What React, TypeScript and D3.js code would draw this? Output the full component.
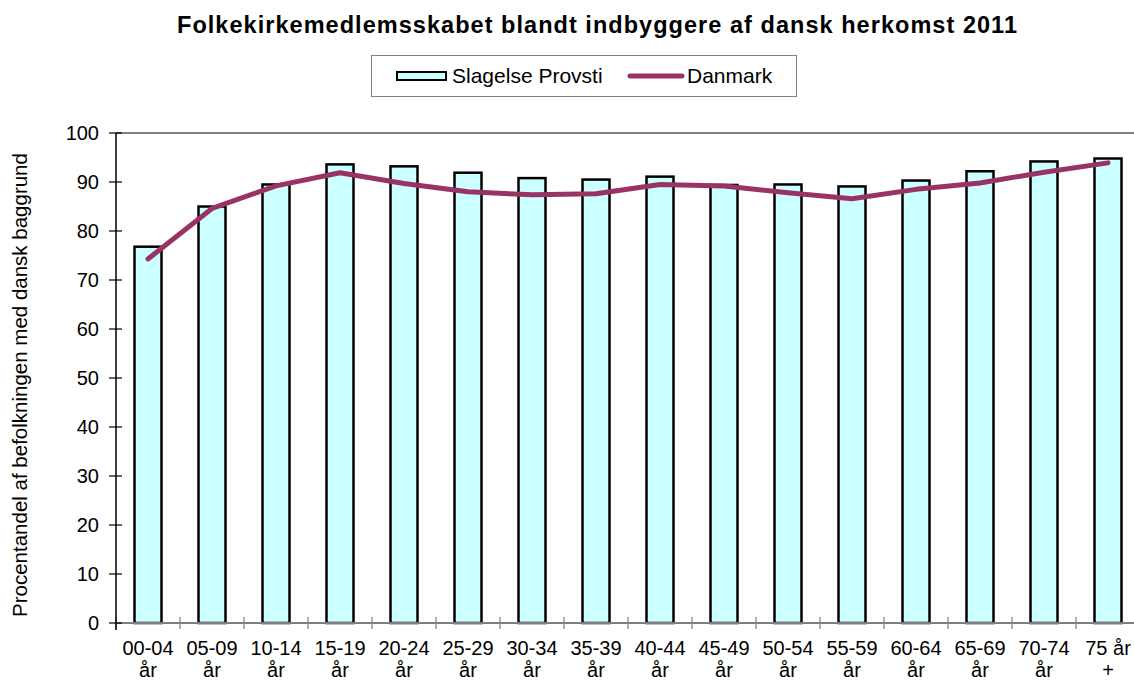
import React from "react";
import * as d3 from "d3";

const categories = ["00-04|år", "05-09|år", "10-14|år", "15-19|år", "20-24|år", "25-29|år", "30-34|år", "35-39|år", "40-44|år", "45-49|år", "50-54|år", "55-59|år", "60-64|år", "65-69|år", "70-74|år", "75 år|+"];
const slagelse = [77.0, 85.2, 89.7, 93.8, 93.4, 92.1, 91.0, 90.7, 91.3, 89.6, 89.7, 89.3, 90.5, 92.4, 94.4, 95.0];
const danmark = [74.3, 84.6, 89.2, 91.9, 89.7, 88.0, 87.4, 87.6, 89.5, 89.2, 87.8, 86.6, 88.5, 89.8, 92.0, 93.9];
const yTicks = [0, 10, 20, 30, 40, 50, 60, 70, 80, 90, 100];

const W = 1134, H = 680;
const left = 116, top = 133, bottom = 623, step = 64;
const FONT = "'Liberation Sans', Arial, sans-serif";

export default function App() {
  const x = d3.scaleBand<string>().domain(categories).range([left, left + step * categories.length]).padding(0);
  const y = d3.scaleLinear().domain([0, 100]).range([bottom, top]);
  const barW = 27;
  const line = d3.line<number>()
    .x((_, i) => (x(categories[i]) as number) + x.bandwidth() / 2)
    .y((d) => y(d));
  const right = left + step * categories.length;
  return (
    <svg width={W} height={H} style={{ position: "absolute", left: 0, top: 0, background: "#fff" }} fontFamily={FONT}>
      <text x={597} y={33} textAnchor="middle" fontSize={23.5} fontWeight="bold" textLength={840} lengthAdjust="spacing">Folkekirkemedlemsskabet blandt indbyggere af dansk herkomst 2011</text>
      {/* legend */}
      <rect x={371.5} y={55.5} width={425} height={41} fill="#fff" stroke="#808080" strokeWidth={1} />
      <rect x={397} y={72} width={49} height={8} fill="#CCFFFF" stroke="#000" strokeWidth={2} />
      <text x={452} y={83} fontSize={21}>Slagelse Provsti</text>
      <line x1={630} x2={682} y1={76} y2={76} stroke="#993366" strokeWidth={5} strokeLinecap="round" />
      <text x={687} y={83} fontSize={21}>Danmark</text>
      {/* plot border */}
      <line x1={left} x2={right} y1={top} y2={top} stroke="#808080" strokeWidth={2} />
      {/* bars */}
      {slagelse.map((v, i) => (
        <rect key={i} x={(x(categories[i]) as number) + (step - barW) / 2} y={y(v) + 1} width={barW} height={bottom - y(v) - 1}
          fill="#CCFFFF" stroke="#000" strokeWidth={2.5} />
      ))}
      {/* x axis */}
      <line x1={left} x2={right} y1={bottom} y2={bottom} stroke="#808080" strokeWidth={2} />
      {categories.map((c, i) => (
        <line key={"t" + i} x1={(x(c) as number)} x2={(x(c) as number)} y1={bottom - 6} y2={bottom + 6} stroke="#808080" strokeWidth={1.2} />
      ))}
      {categories.map((c, i) => {
        const [a, b] = c.split("|");
        const cx = (x(c) as number) + x.bandwidth() / 2;
        return (
          <g key={"l" + i}>
            <text x={cx} y={655} textAnchor="middle" fontSize={20}>{a}</text>
            <text x={cx} y={677} textAnchor="middle" fontSize={20}>{b}</text>
          </g>
        );
      })}
      {/* y axis */}
      <line x1={left} x2={left} y1={top} y2={bottom + 7} stroke="#000" strokeWidth={1.5} />
      {yTicks.map((t) => (
        <g key={"y" + t}>
          <line x1={left - 7} x2={left + 6} y1={y(t)} y2={y(t)} stroke="#000" strokeWidth={1.2} />
          <text x={99} y={y(t) + 7} textAnchor="end" fontSize={20}>{t}</text>
        </g>
      ))}
      <text transform={`translate(27,385) rotate(-90)`} textAnchor="middle" fontSize={20.5}>Procentandel af befolkningen med dansk baggrund</text>
      {/* line */}
      <path d={line(danmark) as string} fill="none" stroke="#993366" strokeWidth={5} strokeLinejoin="round" strokeLinecap="round" />
    </svg>
  );
}
